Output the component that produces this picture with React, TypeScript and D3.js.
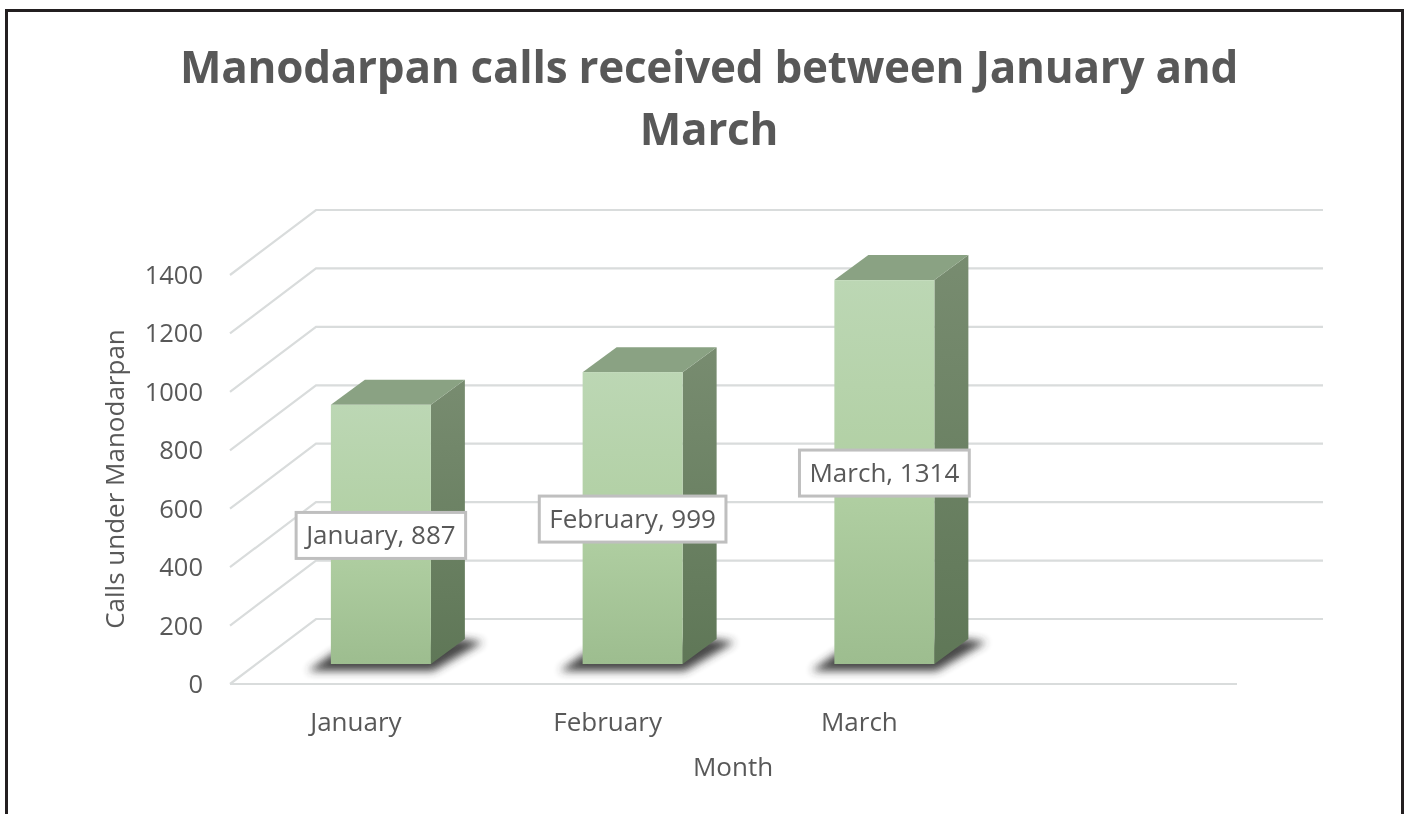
import React from "react";
import * as d3 from "d3";

const titleLines = ["Manodarpan calls received between January and", "March"];
const months = ["January", "February", "March"];
const calls = [887, 999, 1314];
const slots = [...months, ""];
const yTicks = [0, 200, 400, 600, 800, 1000, 1200, 1400];
const xTitle = "Month";
const yTitle = "Calls under Manodarpan";

const W = 1407, H = 814;
const FONT = "'Open Sans', sans-serif";
const TEXT = "#595959";
const x = d3.scaleBand<string>().domain(slots).range([230, 1237]);
const y = d3.scaleLinear().domain([0, 1400]).range([684, 275]);
const wallDx = 86, wallDy = -65;
const barW = 100, barDx = 34, barDy = -25, barFrontDx = 25, barFrontDy = -20;

function measure(text: string, font: string) {
  const c = document.createElement("canvas").getContext("2d")!;
  c.font = font;
  return c.measureText(text).width;
}

const poly = (pts: [number, number][]) => (d3.line()(pts) as string) + "Z";

export default function App() {
  const [x0, x1] = x.range();
  return (
    <svg width={W} height={H} style={{ position: "absolute", left: 0, top: 0, background: "#fff" }}>
      <defs>
        <linearGradient id="front" x1="0" y1="0" x2="0" y2="1">
          <stop offset="0" stopColor="#bcd7b4" />
          <stop offset="0.55" stopColor="#b0cfa2" />
          <stop offset="1" stopColor="#9dbd8f" />
        </linearGradient>
        <linearGradient id="side" x1="0" y1="0" x2="0" y2="1">
          <stop offset="0" stopColor="#788c70" />
          <stop offset="1" stopColor="#5f7757" />
        </linearGradient>
        <filter id="shadow" x="-30%" y="-80%" width="160%" height="260%">
          <feGaussianBlur stdDeviation="4" />
        </filter>
        <filter id="soft" x="-5%" y="-5%" width="110%" height="110%">
          <feGaussianBlur stdDeviation="0.5" />
        </filter>
      </defs>
      <rect x={6.5} y={10.5} width={1396} height={H} fill="#fff" stroke="#231f20" strokeWidth={3} />

      <g stroke="#d9dcdc" strokeWidth={2.2} fill="none" filter="url(#soft)">
        {yTicks.map((t) => (
          <path
            key={t}
            d={
              d3.line()([
                [x0, y(t)],
                [x0 + wallDx, y(t) + wallDy],
                [x1 + wallDx, y(t) + wallDy],
              ]) as string
            }
          />
        ))}
        <line x1={x0} x2={x1} y1={y(0)} y2={y(0)} />
      </g>

      {months.map((m, i) => {
        const left = x(m)! + x.bandwidth() / 2 - barW / 2 + barFrontDx;
        const right = left + barW;
        const bottom = y(0) + barFrontDy;
        const top = bottom - (y(0) - y(calls[i]));
        return (
          <g key={m}>
            <path
              d={poly([
                [left - 23, bottom + 7],
                [right + 2, bottom + 7],
                [right + barDx + 18, bottom + barDy + 3],
                [right + barDx - 4, bottom + barDy],
                [left + barDx - 30, bottom - 12],
              ])}
              fill="#333333"
              opacity={0.9}
              filter="url(#shadow)"
            />
            <path
              d={poly([
                [right, top],
                [right + barDx, top + barDy],
                [right + barDx, bottom + barDy],
                [right, bottom],
              ])}
              fill="url(#side)"
            />
            <path
              d={poly([
                [left, top],
                [left + barDx, top + barDy],
                [right + barDx, top + barDy],
                [right, top],
              ])}
              fill="#8aa283"
            />
            <rect x={left} y={top} width={barW} height={bottom - top} fill="url(#front)" />
          </g>
        );
      })}

      <g filter="url(#soft)" fontFamily={FONT} fill={TEXT}>
        {titleLines.map((l, i) => (
          <text key={l} x={709} y={83 + i * 62} textAnchor="middle" fontSize={44} fontWeight={700} letterSpacing={-0.25}>
            {l}
          </text>
        ))}
        {yTicks.map((t) => (
          <text key={t} x={203} y={y(t) + 9} textAnchor="end" fontSize={25.5}>
            {t}
          </text>
        ))}
        {months.map((m) => (
          <text key={m} x={x(m)! + x.bandwidth() / 2} y={731} textAnchor="middle" fontSize={26}>
            {m}
          </text>
        ))}
        <text x={733} y={776} textAnchor="middle" fontSize={26}>
          {xTitle}
        </text>
        <text transform="translate(124,479) rotate(-90)" textAnchor="middle" fontSize={26}>
          {yTitle}
        </text>
      </g>

      {months.map((m, i) => {
        const label = `${m}, ${calls[i]}`;
        const cx = x(m)! + x.bandwidth() / 2 + barFrontDx;
        const bottom = y(0) + barFrontDy;
        const cy = bottom - (y(0) - y(calls[i])) / 2 + 1;
        const w = measure(label, `26px ${FONT}`) + 20;
        return (
          <g key={m} filter="url(#soft)">
            <rect x={cx - w / 2} y={cy - 23} width={w} height={46} fill="#fff" stroke="#bfbfbf" strokeWidth={3} />
            <text x={cx} y={cy + 9} textAnchor="middle" fontFamily={FONT} fontSize={26} fill={TEXT}>
              {label}
            </text>
          </g>
        );
      })}
    </svg>
  );
}
